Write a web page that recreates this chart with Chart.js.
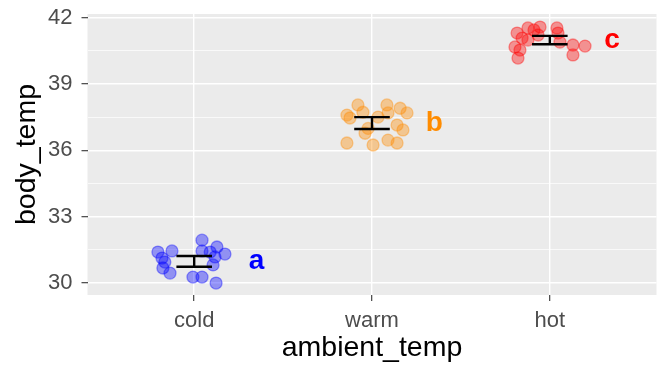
<!DOCTYPE html>
<html>
<head>
<meta charset="utf-8">
<script src="https://cdn.jsdelivr.net/npm/chart.js@4.4.1/dist/chart.umd.min.js"></script>
<style>
  html, body { margin: 0; padding: 0; background: #ffffff; }
</style>
</head>
<body>
<canvas id="tempChart" width="672" height="378"></canvas>
<script>
// categories on the x axis and the group letters drawn next to each
const categories = ['cold', 'warm', 'hot'];
const groupLetters = ['a', 'b', 'c'];

// observations (jitter is the horizontal offset in category units)
const coldJitter   = [-0.204, -0.125, -0.181, -0.176, -0.136, 0.044, 0.044, 0.128, 0.173, 0.117, 0.106, -0.007, 0.044, 0.123, -0.165, 0.090];
const coldBodyTemp = [31.40, 31.45, 31.13, 30.68, 30.45, 31.94, 31.45, 31.63, 31.31, 31.18, 30.82, 30.27, 30.27, 30.00, 30.95, 31.40];
const warmJitter   = [-0.141, -0.124, -0.079, -0.051, -0.039, -0.141, 0.006, 0.034, 0.084, 0.090, 0.158, 0.197, 0.141, 0.174, 0.090, 0.141, -0.022];
const warmBodyTemp = [37.59, 37.46, 38.05, 37.72, 36.77, 36.33, 36.24, 37.50, 38.05, 37.69, 37.90, 37.69, 37.14, 36.92, 36.46, 36.33, 36.99];
const hotJitter    = [-0.184, -0.123, -0.055, 0.040, 0.046, -0.156, -0.123, -0.196, -0.168, -0.179, 0.057, 0.130, 0.198, 0.130, -0.066, -0.089];
const hotBodyTemp  = [41.30, 41.53, 41.57, 41.53, 41.30, 41.07, 40.98, 40.67, 40.53, 40.17, 40.89, 40.76, 40.71, 40.31, 41.21, 41.44];

// group mean and standard error
const groupMean = [30.98, 37.23, 40.98];
const groupSE   = [0.24, 0.27, 0.19];

// y axis labels
const yTicks = [30, 33, 36, 39, 42];

const groupColors = ['0, 0, 255', '255, 140, 0', '255, 0, 0'];
const FONT = '"Liberation Sans", Arial, sans-serif';
Chart.defaults.font.family = FONT;

// grey panel behind the grid
const panelBackground = {
    id: 'panelBackground',
    beforeDraw(chart) {
        const { ctx, chartArea: a } = chart;
        ctx.save();
        ctx.fillStyle = '#EBEBEB';
        ctx.fillRect(a.left, a.top, a.right - a.left, a.bottom - a.top);
        ctx.restore();
    }
};

// mean +/- se error bars and the letters
const errorBars = {
    id: 'errorBars',
    afterDatasetsDraw(chart) {
        const { ctx, scales: { x, y } } = chart;
        ctx.save();
        ctx.strokeStyle = '#000000';
        ctx.lineWidth = 2.4;
        groupMean.forEach((m, i) => {
            const cx = x.getPixelForValue(i + 1);
            const hw = x.getPixelForValue(i + 1.1) - cx;
            const top = y.getPixelForValue(m + groupSE[i]);
            const bot = y.getPixelForValue(m - groupSE[i]);
            ctx.beginPath();
            ctx.moveTo(cx - hw, top); ctx.lineTo(cx + hw, top);
            ctx.moveTo(cx, top); ctx.lineTo(cx, bot);
            ctx.moveTo(cx - hw, bot); ctx.lineTo(cx + hw, bot);
            ctx.stroke();

            ctx.fillStyle = 'rgb(' + groupColors[i] + ')';
            ctx.font = 'bold 28px ' + FONT;
            ctx.textAlign = 'center';
            ctx.textBaseline = 'middle';
            ctx.fillText(groupLetters[i], x.getPixelForValue(i + 1.35), y.getPixelForValue(m));
        });
        ctx.restore();
    }
};

const groups = [
    { jitter: coldJitter, temp: coldBodyTemp },
    { jitter: warmJitter, temp: warmBodyTemp },
    { jitter: hotJitter, temp: hotBodyTemp }
];

const tempCtx = document.getElementById('tempChart').getContext('2d');
new Chart(tempCtx, {
    type: 'scatter',
    data: {
        datasets: groups.map((g, i) => ({
            label: categories[i],
            data: g.temp.map((t, k) => ({ x: i + 1 + g.jitter[k], y: t })),
            backgroundColor: 'rgba(' + groupColors[i] + ', 0.38)',
            borderColor: 'rgba(' + groupColors[i] + ', 0.38)',
            borderWidth: 1.3,
            pointRadius: 6,
        }))
    },
    options: {
        responsive: false,
        animation: false,
        devicePixelRatio: 1,
        layout: {
            padding: { left: 0, top: 14, right: 15.5, bottom: 0 }
        },
        plugins: {
            legend: { display: false },
            tooltip: { enabled: false }
        },
        scales: {
            x: {
                type: 'linear',
                min: 0.4,
                max: 3.6,
                afterBuildTicks: (scale) => {
                    scale.ticks = categories.map((c, i) => ({ value: i + 1 }));
                },
                afterFit: (scale) => {
                    scale.height = 83;
                    scale.paddingLeft = 0;
                    scale.paddingRight = 0;
                },
                ticks: {
                    color: '#4D4D4D',
                    font: { size: 22 },
                    padding: 7,
                    maxRotation: 0,
                    callback: (v) => categories[Math.round(v) - 1]
                },
                grid: {
                    color: '#FFFFFF',
                    lineWidth: 1.4,
                    tickColor: '#333333',
                    tickLength: 6,
                    tickWidth: 1.1
                },
                border: { display: false },
                title: {
                    display: true,
                    text: 'ambient_temp',
                    color: '#000000',
                    font: { size: 28.5 },
                    padding: { top: 0, bottom: 13 }
                }
            },
            y: {
                min: 29.46,
                max: 42.16,
                afterBuildTicks: (scale) => {
                    const vals = [];
                    yTicks.forEach((t, i) => {
                        vals.push({ value: t });
                        if (i < yTicks.length - 1) vals.push({ value: (t + yTicks[i + 1]) / 2 });
                    });
                    scale.ticks = vals;
                },
                afterFit: (scale) => {
                    scale.width = 87.5;
                    scale.paddingTop = 0;
                    scale.paddingBottom = 0;
                },
                ticks: {
                    color: '#4D4D4D',
                    font: { size: 22 },
                    padding: 9,
                    callback: (v) => yTicks.includes(v) ? v : ''
                },
                grid: {
                    color: '#FFFFFF',
                    lineWidth: (c) => yTicks.includes(c.tick.value) ? 1.4 : 0.7,
                    tickColor: (c) => yTicks.includes(c.tick.value) ? '#333333' : 'rgba(0,0,0,0)',
                    tickLength: 6,
                    tickWidth: 1.1
                },
                border: { display: false },
                title: {
                    display: true,
                    text: 'body_temp',
                    color: '#000000',
                    font: { size: 28.5 },
                    padding: { top: 10, bottom: 0 }
                }
            }
        }
    },
    plugins: [panelBackground, errorBars]
});
</script>
</body>
</html>
